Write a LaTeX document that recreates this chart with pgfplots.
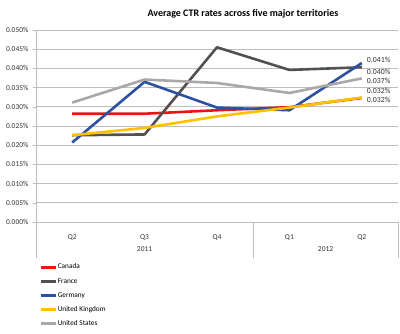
\documentclass[border=0pt]{standalone}
\usepackage{fontspec}
\setmainfont{Carlito}
\usepackage{pgfplots}
\pgfplotsset{compat=1.18}
\definecolor{cCanada}{RGB}{235,20,20}
\definecolor{cFrance}{RGB}{85,80,80}
\definecolor{cGermany}{RGB}{45,80,160}
\definecolor{cUK}{RGB}{255,192,0}
\definecolor{cUS}{RGB}{172,167,167}
\definecolor{cGrid}{RGB}{190,190,190}
\begin{document}
\begin{tikzpicture}[x=1pt,y=1pt]
\path[use as bounding box] (0,0) rectangle (400,334);
\node[font=\bfseries\fontsize{10}{12}\selectfont] at (243,320) {Average CTR rates across five major territories};
\begin{axis}[
  at={(36pt,112pt)}, anchor=south west,
  scale only axis, width=362pt, height=192pt,
  xmin=-0.5, xmax=4.5, ymin=0, ymax=0.05,
  axis x line=bottom, axis y line=left,
  axis line style={-,draw=cGrid},
  xtick=data, xticklabels={Q2,Q3,Q4,Q1,Q2},
  x tick style={draw=none},
  xticklabel style={anchor=base, yshift=-15pt},
  ytick={0,0.005,...,0.0501},
  scaled y ticks=false,
  yticklabel={\pgfmathprintnumber[fixed,fixed zerofill,precision=3]{\tick}\%},
  /pgf/number format/assume math mode=true,
  y tick style={draw=cGrid},
  tick align=outside, major tick length=3pt,
  yticklabel style={xshift=-1pt},
  ymajorgrids, grid style={draw=cGrid, line width=0.6pt},
  tick label style={font=\fontsize{7.5}{9}\selectfont, text=black!80},
  clip=false,
  legend style={at={([xshift=4pt,yshift=-41.8pt]axis description cs:0,0)}, anchor=north west,
    draw=none, inner sep=0pt, font=\fontsize{7.3}{8}\selectfont, row sep=7.6pt,
    nodes={inner sep=0pt, text height=5pt, text depth=1.5pt}},
  legend cell align=left,
  legend image code/.code={\draw[#1, line width=2.6pt] (0pt,0pt) -- (15pt,0pt);},
  every axis plot/.append style={line width=2.6pt, line join=round, no markers},
]
\addplot[cCanada] coordinates {(0,0.0282) (1,0.0282) (2,0.0291) (3,0.0299) (4,0.0323)};
\addlegendentry{Canada}
\addplot[cFrance] coordinates {(0,0.0226) (1,0.0228) (2,0.0455) (3,0.0396) (4,0.0403)};
\addlegendentry{France}
\addplot[cGermany] coordinates {(0,0.0207) (1,0.0365) (2,0.0298) (3,0.0291) (4,0.0414)};
\addlegendentry{Germany}
\addplot[cUK] coordinates {(0,0.0226) (1,0.0245) (2,0.0275) (3,0.0298) (4,0.0324)};
\addlegendentry{United Kingdom}
\addplot[cUS] coordinates {(0,0.0311) (1,0.0371) (2,0.0362) (3,0.0336) (4,0.0374)};
\addlegendentry{United States}
\draw[cGrid, line width=0.6pt] (axis cs:-0.5,0) -- ++(0pt,-36pt);
\draw[cGrid, line width=0.6pt] (axis cs:2.5,0) -- ++(0pt,-36pt);
\draw[cGrid, line width=0.6pt] (axis cs:4.5,0) -- ++(0pt,-36pt);
\node[font=\fontsize{7.5}{9}\selectfont, text=black!80, anchor=base] at ([yshift=-30pt]axis cs:1,0) {2011};
\node[font=\fontsize{7.5}{9}\selectfont, text=black!80, anchor=base] at ([yshift=-30pt]axis cs:3.5,0) {2012};
\begin{scope}[every node/.style={anchor=west, font=\fontsize{7.8}{9}\selectfont, text=black!80, inner sep=0pt}]
\node at ([xshift=5pt]axis cs:4,0.0422) {0.041\%};
\node at ([xshift=5pt]axis cs:4,0.0391) {0.040\%};
\node at ([xshift=5pt]axis cs:4,0.0367) {0.037\%};
\node at ([xshift=5pt]axis cs:4,0.0341) {0.032\%};
\node at ([xshift=5pt]axis cs:4,0.0318) {0.032\%};
\end{scope}
\end{axis}
\end{tikzpicture}
\end{document}
